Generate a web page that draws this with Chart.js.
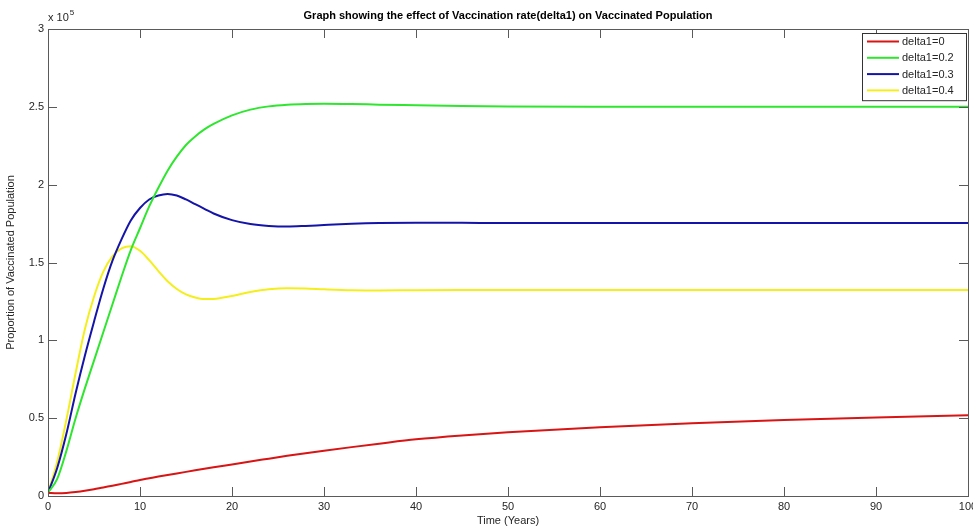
<!DOCTYPE html>
<html>
<head>
<meta charset="utf-8">
<title>Vaccinated Population</title>
<script src="https://cdn.jsdelivr.net/npm/chart.js@4/dist/chart.umd.min.js"></script>
<style>
  html, body { margin: 0; padding: 0; background: #fff; }
  #wrap { width: 973px; height: 528px; }
</style>
</head>
<body>
<div id="wrap"><canvas id="chart" width="973" height="528"></canvas></div>
<script>
/* Vaccinated population vs time, for four vaccination rates (values in units of 10^5) */

const TITLE   = 'Graph showing the effect of Vaccination rate(delta1) on Vaccinated Population';
const X_TITLE = 'Time (Years)';
const Y_TITLE = 'Proportion of Vaccinated Population';
const Y_EXP   = 5;   // "x 10^5" multiplier shown above the y axis

const years = [0, 1, 2, 3, 4, 5, 6, 7, 8, 9, 10, 11, 12, 13, 14, 15, 16, 17, 18,
               20, 22, 24, 26, 28, 30, 33, 36, 40, 45, 50, 60, 70, 80, 90, 100];

const labels = ['delta1=0', 'delta1=0.2', 'delta1=0.3', 'delta1=0.4'];
const colors = ['#d81414', '#2ee62e', '#1414a8', '#f4ef1c'];

const delta0 = [0.020, 0.017, 0.019, 0.025, 0.033, 0.043, 0.055, 0.066, 0.078, 0.090, 0.103,
                0.114, 0.125, 0.135, 0.145, 0.155, 0.165, 0.175, 0.185,
                0.203, 0.222, 0.240, 0.258, 0.275, 0.291, 0.314, 0.336, 0.364, 0.389,
                0.409, 0.441, 0.467, 0.488, 0.505, 0.518];

const delta02 = [0.02, 0.11, 0.29, 0.50, 0.69, 0.87, 1.05, 1.23, 1.41, 1.58, 1.72,
                 1.86, 1.98, 2.09, 2.18, 2.255, 2.31, 2.355, 2.39,
                 2.445, 2.482, 2.503, 2.514, 2.519, 2.52, 2.518, 2.514, 2.51, 2.505,
                 2.502, 2.50, 2.50, 2.50, 2.50, 2.50];

const delta03 = [0.02, 0.18, 0.40, 0.66, 0.90, 1.12, 1.33, 1.51, 1.65, 1.77, 1.85,
                 1.905, 1.93, 1.94, 1.93, 1.905, 1.875, 1.845, 1.815,
                 1.772, 1.747, 1.735, 1.731, 1.735, 1.741, 1.749, 1.754, 1.756, 1.755,
                 1.753, 1.753, 1.753, 1.753, 1.753, 1.753];

const delta04 = [0.02, 0.22, 0.49, 0.79, 1.07, 1.28, 1.44, 1.54, 1.59, 1.605, 1.575,
                 1.515, 1.445, 1.38, 1.33, 1.295, 1.275, 1.265, 1.266,
                 1.285, 1.31, 1.328, 1.335, 1.333, 1.328, 1.322, 1.32, 1.322, 1.323,
                 1.323, 1.323, 1.323, 1.323, 1.323, 1.323];

const series = [delta0, delta02, delta03, delta04];

/* ── helpers ──────────────────────────────────────────────────── */

const FONT = 'Liberation Sans, Arial, Helvetica, sans-serif';
const TEXT = '#262626';
const AXIS = '#5a5a5a';
const TICK_LEN = 9;

function toPoints(values) {
  return years.map((t, i) => ({ x: t, y: values[i] }));
}

/* MATLAB-like frame: box + inward ticks on all four sides, title, exponent, legend */
const matlabFrame = {
  id: 'matlabFrame',
  afterDraw(chart) {
    const { ctx, chartArea: a, scales } = chart;
    ctx.save();
    ctx.strokeStyle = AXIS;
    ctx.lineWidth = 1;
    ctx.strokeRect(a.left + 0.5, a.top + 0.5, a.right - a.left, a.bottom - a.top);

    ctx.beginPath();
    scales.x.ticks.forEach(t => {
      const px = Math.round(scales.x.getPixelForValue(t.value)) + 0.5;
      ctx.moveTo(px, a.bottom); ctx.lineTo(px, a.bottom - TICK_LEN);
      ctx.moveTo(px, a.top);    ctx.lineTo(px, a.top + TICK_LEN);
    });
    scales.y.ticks.forEach(t => {
      const py = Math.round(scales.y.getPixelForValue(t.value)) + 0.5;
      ctx.moveTo(a.left, py);  ctx.lineTo(a.left + TICK_LEN, py);
      ctx.moveTo(a.right, py); ctx.lineTo(a.right - TICK_LEN, py);
    });
    ctx.stroke();

    /* title */
    ctx.fillStyle = '#000';
    ctx.font = 'bold 11px ' + FONT;
    ctx.textAlign = 'center';
    ctx.textBaseline = 'middle';
    ctx.fillText(TITLE, (a.left + a.right) / 2, 16);

    /* exponent "x 10^5" */
    ctx.fillStyle = TEXT;
    ctx.font = '11px ' + FONT;
    ctx.textAlign = 'left';
    ctx.fillText('x 10', a.left, 18);
    const w = ctx.measureText('x 10').width;
    ctx.font = '8px ' + FONT;
    ctx.fillText(String(Y_EXP), a.left + w + 1, 13);

    /* legend box */
    const bx = 862, by = 33, bw = 104, rowH = 16.3;
    const bh = rowH * chart.data.datasets.length + 2;
    ctx.fillStyle = '#fff';
    ctx.fillRect(bx, by, bw, bh);
    ctx.strokeStyle = '#333';
    ctx.strokeRect(bx + 0.5, by + 0.5, bw, bh);
    ctx.font = '11px ' + FONT;
    chart.data.datasets.forEach((ds, i) => {
      const y = by + 8.5 + i * rowH;
      ctx.strokeStyle = ds.borderColor;
      ctx.lineWidth = 2;
      ctx.beginPath();
      ctx.moveTo(bx + 5, y); ctx.lineTo(bx + 37, y);
      ctx.stroke();
      ctx.fillStyle = TEXT;
      ctx.fillText(ds.label, bx + 40, y + 0.5);
    });
    ctx.restore();
  },
};

/* ── chart ────────────────────────────────────────────────────── */

new Chart(document.getElementById('chart'), {
  type: 'line',
  data: {
    datasets: series.map((vals, i) => ({
      label: labels[i],
      data: toPoints(vals),
      borderColor: colors[i],
      backgroundColor: colors[i],
      borderWidth: 2,
      pointRadius: 0,
      fill: false,
      cubicInterpolationMode: 'monotone',
    })),
  },
  options: {
    responsive: false,
    animation: false,
    layout: { padding: { left: 0, right: 5, top: 29, bottom: 0 } },
    plugins: {
      legend: { display: false },
      title: { display: false },
      tooltip: { enabled: false },
    },
    scales: {
      x: {
        type: 'linear',
        min: 0,
        max: 100,
        ticks: { stepSize: 10, color: TEXT, font: { family: FONT, size: 11 }, padding: 4, maxRotation: 0, autoSkip: false },
        grid: { display: false, drawTicks: false },
        border: { display: false },
        title: { display: true, text: X_TITLE, color: TEXT, font: { family: FONT, size: 11 }, padding: { top: 0, bottom: 0 } },
        afterFit(scale) { scale.height = 32; scale.paddingLeft = 0; scale.paddingRight = 0; },
      },
      y: {
        min: 0,
        max: 3,
        ticks: {
          stepSize: 0.5, color: TEXT, font: { family: FONT, size: 11 }, padding: 4,
          callback: v => String(v),
        },
        grid: { display: false, drawTicks: false },
        border: { display: false },
        title: { display: true, text: Y_TITLE, color: TEXT, font: { family: FONT, size: 11 }, padding: { top: 4, bottom: 0 } },
        afterFit(scale) { scale.width = 48; scale.paddingTop = 0; scale.paddingBottom = 0; },
      },
    },
  },
  plugins: [matlabFrame],
});
</script>
</body>
</html>
